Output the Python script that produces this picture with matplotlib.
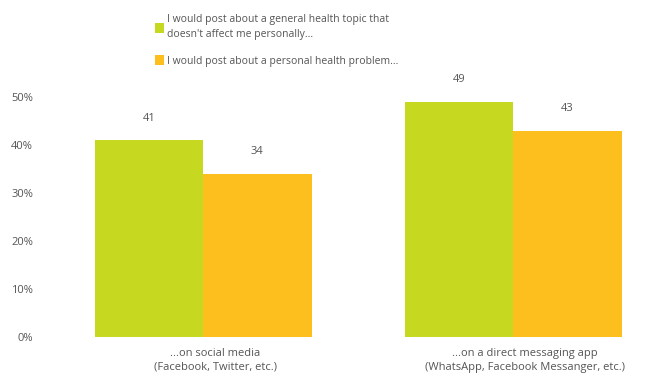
import matplotlib.pyplot as plt
import matplotlib.transforms as mtransforms
import numpy as np

plt.rcParams['font.family'] = ['Open Sans', 'DejaVu Sans']

categories = ['...on social media\n(Facebook, Twitter, etc.)',
              '...on a direct messaging app\n(WhatsApp, Facebook Messanger, etc.)']
general = [41, 49]
personal = [34, 43]
series_names = ["I would post about a general health topic that\ndoesn't affect me personally...",
                "I would post about a personal health problem..."]
yticks = [0, 10, 20, 30, 40, 50]

green = '#c6d820'
orange = '#fcbf1e'
txt = '#555555'

fig = plt.figure(figsize=(6.62, 3.79), dpi=100)
ax = fig.add_axes([40 / 662, 42 / 379, 622 / 662, 240 / 379])

x = np.arange(len(categories))
w = 0.35
b1 = ax.bar(x - w / 2, general, w, color=green, label=series_names[0])
b2 = ax.bar(x + w / 2, personal, w, color=orange, label=series_names[1])

for bars, vals in [(b1, general), (b2, personal)]:
    for r, v in zip(bars, vals):
        ax.text(r.get_x() + r.get_width() / 2, v + 3.4, str(v),
                ha='center', va='bottom', fontsize=8, color=txt)

ax.set_xlim(-0.526, 1.48)
ax.set_ylim(0, 50)
ax.set_yticks(yticks)
ax.set_yticklabels([f'{t}%' for t in yticks])
ax.set_xticks(x)
ax.set_xticklabels(categories, linespacing=1.35)
ax.tick_params(length=0, labelsize=8, colors=txt)
ax.tick_params(axis='y', pad=5)
ax.tick_params(axis='x', pad=8)
# category labels sit a little right of the group centres
shift = mtransforms.ScaledTranslation(12 / 100, 0, fig.dpi_scale_trans)
for lbl in ax.get_xticklabels():
    lbl.set_transform(lbl.get_transform() + shift)
for s in ax.spines.values():
    s.set_visible(False)

leg = fig.legend(handles=[b1, b2], loc='upper left', bbox_to_anchor=(150 / 662, 1 - 9 / 379),
                 frameon=False, fontsize=7.5, labelcolor=txt, handlelength=0.8,
                 handleheight=1.1, handletextpad=0.3, labelspacing=1.45, borderpad=0)
for t in leg.get_texts():
    t.set_linespacing(1.5)

fig.savefig('out.png', dpi=100)
